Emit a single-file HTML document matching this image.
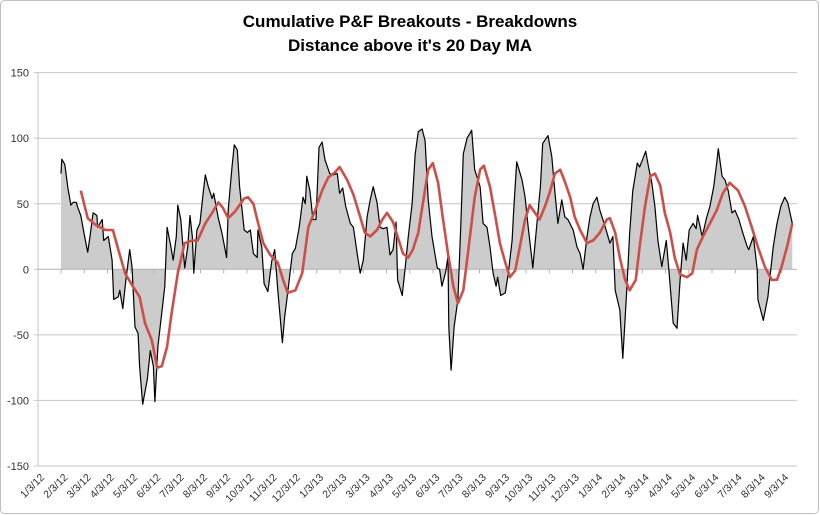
<!DOCTYPE html>
<html><head><meta charset="utf-8"><style>
html,body{margin:0;padding:0;background:#fff;}
svg{display:block;font-family:"Liberation Sans",sans-serif;}
</style></head><body>
<svg id="chart" width="820" height="515" viewBox="0 0 820 515" xmlns="http://www.w3.org/2000/svg">
<rect x="0.5" y="0.5" width="818" height="513" rx="4" fill="#fff" stroke="#bfbfbf"/>
<text x="410" y="27" text-anchor="middle" font-size="17" font-weight="bold" fill="#000">Cumulative P&amp;F Breakouts - Breakdowns</text>
<text x="410" y="51" text-anchor="middle" font-size="17" font-weight="bold" fill="#000">Distance above it's 20 Day MA</text>
<g id="grid"></g>
<g id="marks"></g>
<g id="axes"></g>
</svg>
<script>
const yTicks = [150, 100, 50, 0, -50, -100, -150];
const monthLabels = ["1/3/12","2/3/12","3/3/12","4/3/12","5/3/12","6/3/12","7/3/12","8/3/12","9/3/12","10/3/12","11/3/12","12/3/12","1/3/13","2/3/13","3/3/13","4/3/13","5/3/13","6/3/13","7/3/13","8/3/13","9/3/13","10/3/13","11/3/13","12/3/13","1/3/14","2/3/14","3/3/14","4/3/14","5/3/14","6/3/14","7/3/14","8/3/14","9/3/14"];
const breakoutDays = [0,1,5,9,13,16,20,22,26,30,35,38,42,47,48,54,56,62,67,69,75,77,81,85,90,93,97,101,103,107,113,117,121,123,127,132,136,139,143,147,151,153,157,162,166,169,172,174,178,182,186,189,193,198,200,206,211,217,219,224,227,231,234,240,244,248,252,257,258,263,266,271,276,280,284,290,293,297,303,307,312,317,320,322,326,330,334,338,342,346,348,352,356,362,365,369,373,379,383,388,392,396,401,405,409,414,418,422,427,431,435,439,441,447,451,455,460,464,468,473,477,481,486,493,496,499,504,507,508,511,515,520,524,527,532,538,542,549,553,558,562,566,570,572,576,582,586,591,593,597,604,608,612,617,618,624,628,631,638,643,647,651,656,660,664,671,676,680,684,689,693,697,702,706,713,719,723,726,728,732,736,741,745,749,755,758,762,766,770,774,778,782,787,793,796,802,807,811,815,819,823,828,832,834,840,846,850,855,859,861,866,870,874,879,883,888,893,899,901,907,912,913,920,926,933,938,943,948,952,958];
const breakoutValues = [73,84,80,62,49,51,51,47,41,28,13,25,43,41,32,38,22,25,7,-23,-21,-16,-30,-8,15,2,-44,-49,-74,-103,-84,-62,-74,-101,-59,-33,-13,32,20,7,25,49,38,1,17,41,25,-3,30,35,57,72,63,54,58,39,27,9,45,78,95,91,63,30,28,30,12,9,30,17,-11,-17,6,15,-16,-56,-36,-18,12,16,32,55,50,71,60,38,38,93,97,83,80,73,72,73,58,62,48,35,32,12,-3,7,40,53,63,51,32,31,32,11,15,36,-8,-20,2,25,50,88,105,107,98,53,25,1,0,-13,-2,10,-44,-77,-44,-23,38,88,100,106,76,63,35,32,17,-3,-13,-6,-20,-18,-3,22,45,82,68,55,32,7,1,38,63,96,102,86,59,35,53,40,38,30,17,12,0,25,40,50,55,45,32,20,25,-16,-21,-31,-68,-18,28,60,81,78,84,90,77,66,48,22,2,22,2,-41,-45,-8,20,7,30,35,31,41,25,40,48,63,81,92,71,68,60,43,45,38,28,17,15,25,0,-23,-39,-21,17,35,48,55,51,35];
const maDays = [26,35,45,58,68,75,84,94,103,110,119,126,132,139,145,153,162,172,179,189,198,206,212,219,228,240,245,252,257,265,274,284,291,297,307,316,324,333,342,350,359,365,375,383,392,398,405,414,421,427,435,441,448,455,461,468,474,481,487,494,500,507,514,520,527,533,542,549,554,562,569,575,582,588,595,601,608,614,621,627,634,641,647,654,660,667,673,680,689,697,706,715,719,726,732,739,745,753,758,765,772,778,785,791,798,804,811,820,827,833,841,850,859,867,876,887,896,905,913,922,931,938,944,951,958];
const maValues = [60,39,34,30,30,15,-3,-13,-21,-41,-54,-75,-74,-59,-33,-3,20,22,22,35,43,51,47,39,44,54,55,50,38,20,11,5,-8,-18,-16,-3,32,45,60,70,74,78,68,57,40,28,25,30,38,43,36,25,12,9,15,28,50,76,81,66,40,12,-13,-26,-16,12,55,76,79,63,40,20,5,-6,-1,17,38,49,43,38,48,60,73,76,67,55,40,30,20,22,28,38,39,28,9,-8,-16,-8,17,48,71,73,64,43,28,9,-4,-6,-3,15,25,35,45,58,66,60,48,32,17,2,-8,-8,2,17,35];

const X0 = 61, PX_PER_DAY = 1/1.31, AX_L = 38, AX_R = 797;
const xs = d => X0 + d * PX_PER_DAY;
const ys = v => 269.3 - v * 1.311;
const NS = "http://www.w3.org/2000/svg";
const mk = (tag, attrs, parent) => { const e = document.createElementNS(NS, tag); for (const k in attrs) e.setAttribute(k, attrs[k]); parent.appendChild(e); return e; };
const grid = document.getElementById('grid'), marks = document.getElementById('marks'), axes = document.getElementById('axes');

yTicks.forEach(v => {
  if (v !== 0) {
    const g = mk('line', {x1: AX_L, x2: AX_R, y1: ys(v), y2: ys(v), stroke: '#c6c6c6', 'stroke-width': 1}, grid);
    
    
  }
  const t = mk('text', {x: AX_L - 9, y: ys(v) + 4, 'text-anchor': 'end', 'font-size': 11, fill: '#333'}, axes);
  t.textContent = v;
  
  
  const tk = mk('line', {x1: AX_L - 4, x2: AX_L, y1: ys(v), y2: ys(v), stroke: '#c6c6c6'}, axes);
  
  
});
const yAxis = mk('line', {x1: AX_L, x2: AX_L, y1: ys(150), y2: ys(-150), stroke: '#c6c6c6'}, axes);



const n = Math.min(breakoutDays.length, breakoutValues.length);
let d = 'M' + xs(breakoutDays[0]).toFixed(1) + ',' + ys(0).toFixed(1);
for (let i = 0; i < n; i++) { d += ' L' + xs(breakoutDays[i]).toFixed(1) + ',' + ys(breakoutValues[i]).toFixed(1); }
d += ' L' + xs(breakoutDays[n - 1]).toFixed(1) + ',' + ys(0).toFixed(1) + ' Z';
const area = mk('path', {d: d, fill: '#cccccc', stroke: 'none'}, marks);



const zero = mk('line', {x1: AX_L, x2: AX_R, y1: ys(0), y2: ys(0), stroke: '#b0b0b0'}, marks);


monthLabels.forEach((lab, i) => {
  const tx = X0 + i * 23.25;
  if (tx <= AX_R) {
    const tk = mk('line', {x1: tx, x2: tx, y1: ys(0), y2: ys(0) + 4, stroke: '#b0b0b0'}, marks);
    
    
  }
  const ax = tx - 16, ay = 478;
  const t = mk('text', {x: ax, y: ay, 'text-anchor': 'end', 'font-size': 10.5, fill: '#333', transform: 'rotate(-45 ' + ax + ' ' + ay + ')'}, axes);
  t.textContent = lab;
  
  
});

const bpts = [];
for (let i = 0; i < n; i++) bpts.push(xs(breakoutDays[i]).toFixed(1) + ',' + ys(breakoutValues[i]).toFixed(1));
const bl = mk('polyline', {points: bpts.join(' '), fill: 'none', stroke: '#000', 'stroke-width': 1.2, 'stroke-linejoin': 'round'}, marks);


const ma = mk('polyline', {points: maDays.map((dd, i) => xs(dd).toFixed(1) + ',' + ys(maValues[i]).toFixed(1)).join(' '), fill: 'none', stroke: '#cd4f48', 'stroke-width': 2.6, 'stroke-linejoin': 'round'}, marks);


</script>
</body></html>
